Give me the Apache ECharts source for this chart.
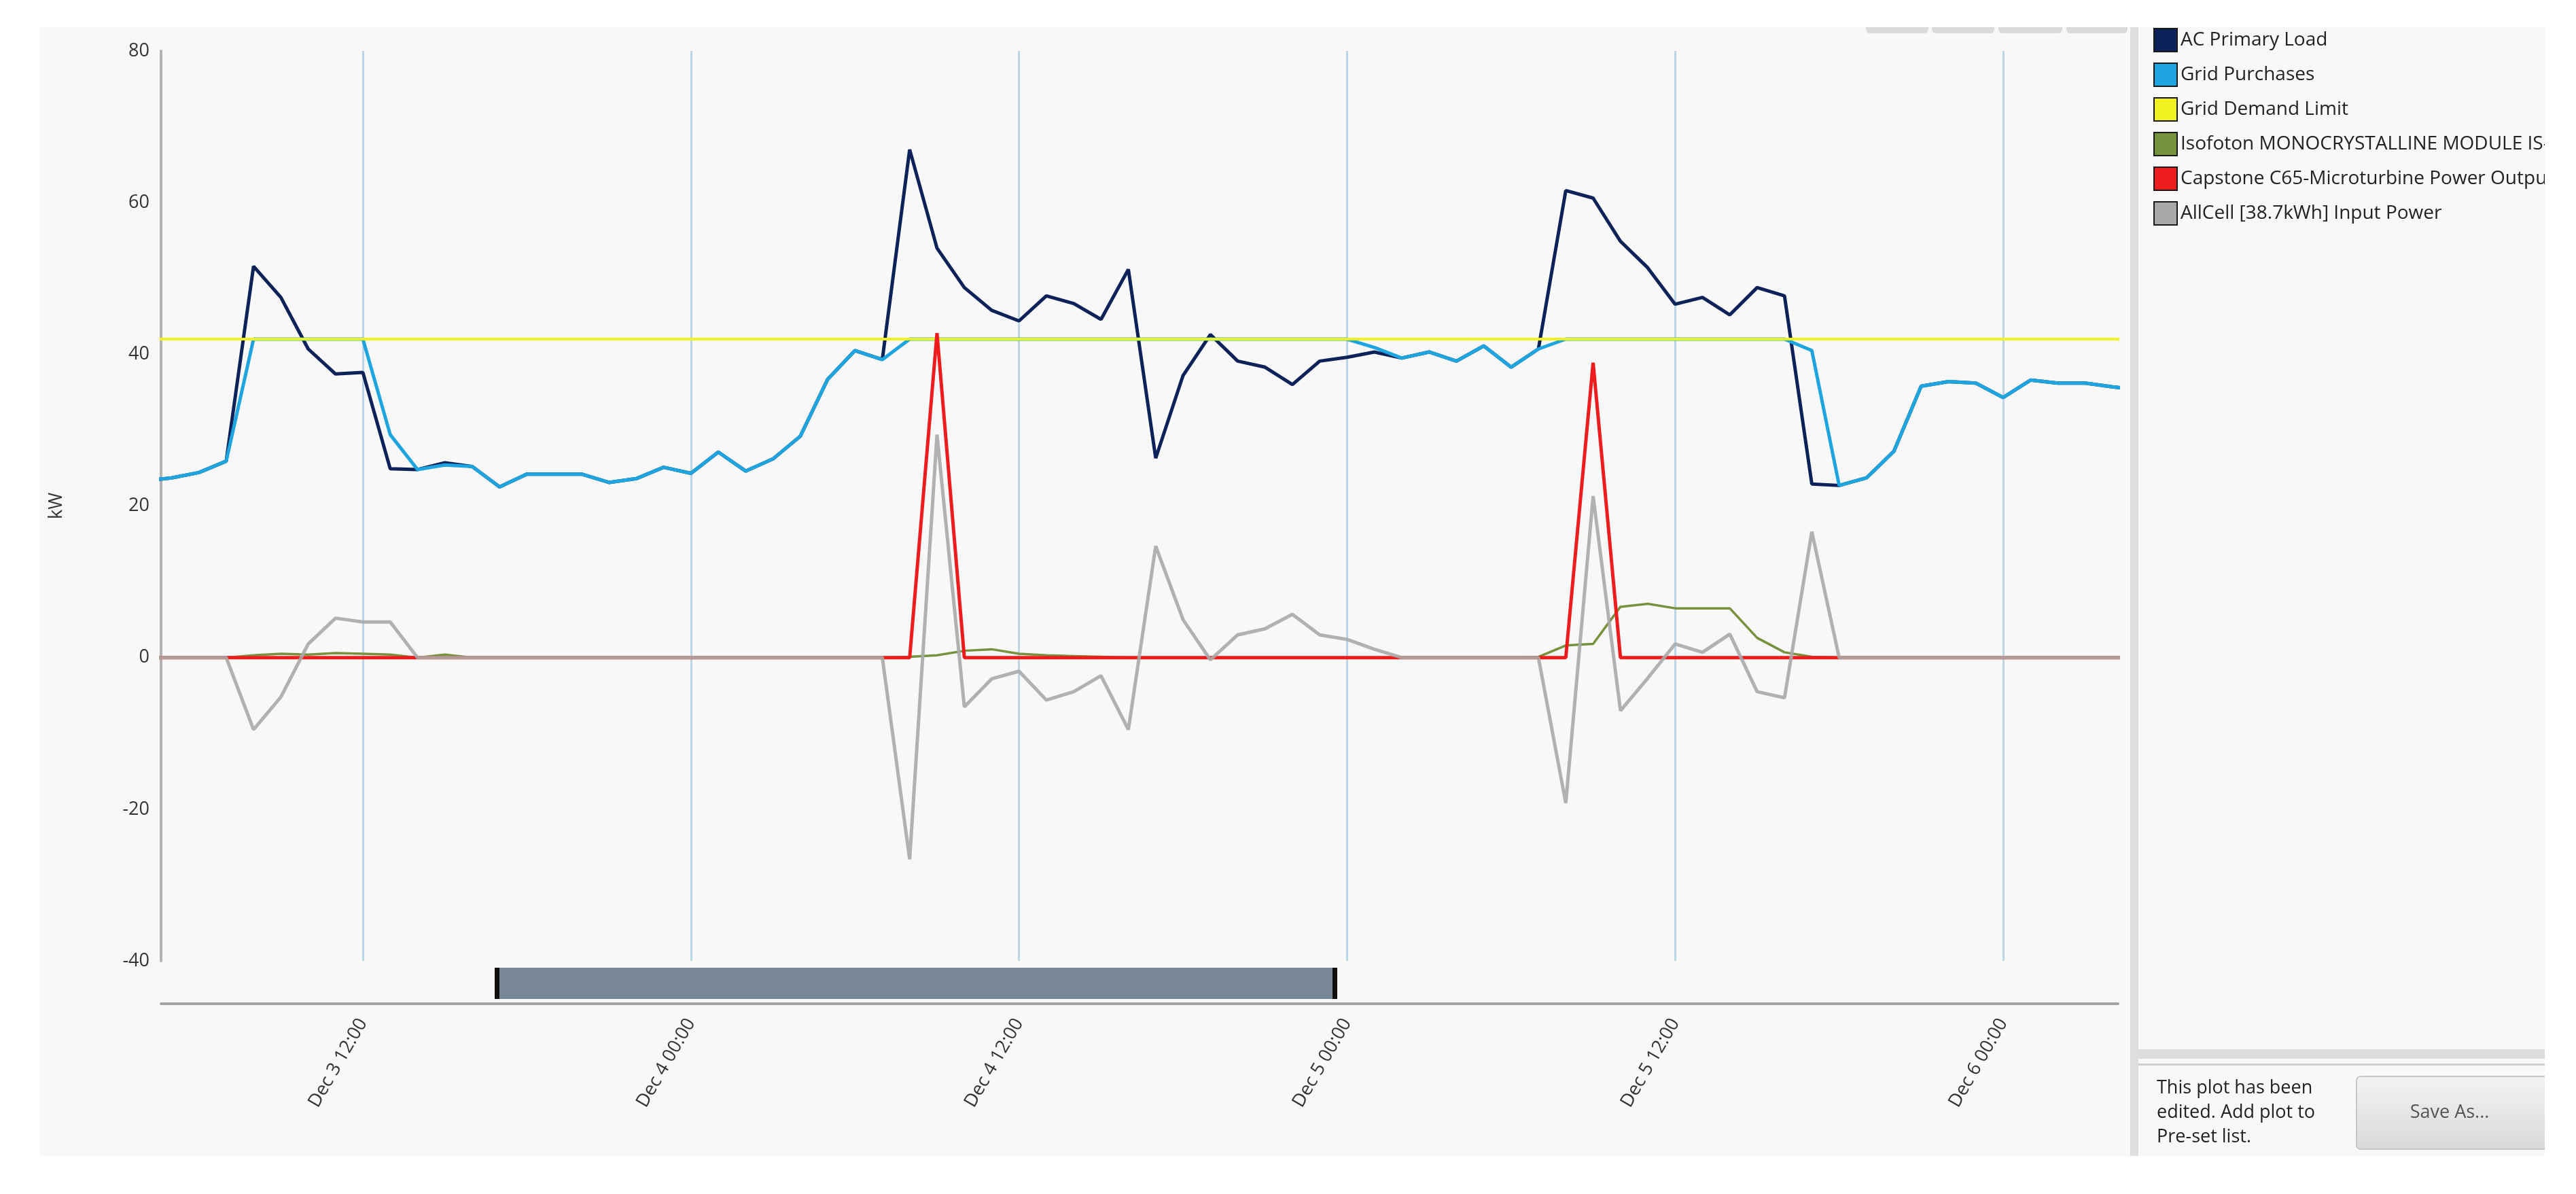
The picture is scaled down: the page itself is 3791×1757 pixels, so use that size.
<!DOCTYPE html>
<html>
<head>
<meta charset="utf-8">
<title>Power plot</title>
<script src="https://cdn.jsdelivr.net/npm/echarts@6.0.0/dist/echarts.min.js"></script>
<style>
  html, body { margin: 0; padding: 0; background: #fff; }
  #main { width: 3791px; height: 1757px; }
</style>
</head>
<body>
<div id="main"></div>
<script>
// hourly time stamps (Dec 3 04:00 .. Dec 6 05:00)
var times = [
  '2013-12-03 04:00', '2013-12-03 05:00', '2013-12-03 06:00', '2013-12-03 07:00', '2013-12-03 08:00',
  '2013-12-03 09:00', '2013-12-03 10:00', '2013-12-03 11:00', '2013-12-03 12:00', '2013-12-03 13:00',
  '2013-12-03 14:00', '2013-12-03 15:00', '2013-12-03 16:00', '2013-12-03 17:00', '2013-12-03 18:00',
  '2013-12-03 19:00', '2013-12-03 20:00', '2013-12-03 21:00', '2013-12-03 22:00', '2013-12-03 23:00',
  '2013-12-04 00:00', '2013-12-04 01:00', '2013-12-04 02:00', '2013-12-04 03:00', '2013-12-04 04:00',
  '2013-12-04 05:00', '2013-12-04 06:00', '2013-12-04 07:00', '2013-12-04 08:00', '2013-12-04 09:00',
  '2013-12-04 10:00', '2013-12-04 11:00', '2013-12-04 12:00', '2013-12-04 13:00', '2013-12-04 14:00',
  '2013-12-04 15:00', '2013-12-04 16:00', '2013-12-04 17:00', '2013-12-04 18:00', '2013-12-04 19:00',
  '2013-12-04 20:00', '2013-12-04 21:00', '2013-12-04 22:00', '2013-12-04 23:00', '2013-12-05 00:00',
  '2013-12-05 01:00', '2013-12-05 02:00', '2013-12-05 03:00', '2013-12-05 04:00', '2013-12-05 05:00',
  '2013-12-05 06:00', '2013-12-05 07:00', '2013-12-05 08:00', '2013-12-05 09:00', '2013-12-05 10:00',
  '2013-12-05 11:00', '2013-12-05 12:00', '2013-12-05 13:00', '2013-12-05 14:00', '2013-12-05 15:00',
  '2013-12-05 16:00', '2013-12-05 17:00', '2013-12-05 18:00', '2013-12-05 19:00', '2013-12-05 20:00',
  '2013-12-05 21:00', '2013-12-05 22:00', '2013-12-05 23:00', '2013-12-06 00:00', '2013-12-06 01:00',
  '2013-12-06 02:00', '2013-12-06 03:00', '2013-12-06 04:00', '2013-12-06 05:00'
];

// x tick labels (every 12 hours)
var tickTimes = [
  '2013-12-03 12:00', '2013-12-04 00:00', '2013-12-04 12:00',
  '2013-12-05 00:00', '2013-12-05 12:00', '2013-12-06 00:00'
];

var acPrimaryLoad = [
  23.3, 23.7, 24.4, 25.9, 51.6, 47.5, 40.7, 37.4, 37.6, 24.9,
  24.8, 25.7, 25.2, 22.5, 24.2, 24.2, 24.2, 23.1, 23.6, 25.1,
  24.3, 27.1, 24.6, 26.2, 29.2, 36.7, 40.5, 39.3, 67.0, 54.0,
  48.8, 45.8, 44.4, 47.7, 46.7, 44.6, 51.2, 26.3, 37.2, 42.6,
  39.1, 38.3, 36.0, 39.1, 39.6, 40.3, 39.5, 40.3, 39.1, 41.1,
  38.3, 40.7, 61.6, 60.6, 54.9, 51.4, 46.6, 47.5, 45.2, 48.8,
  47.7, 22.9, 22.7, 23.7, 27.2, 35.8, 36.4, 36.2, 34.3, 36.6,
  36.2, 36.2, 35.7, 35.3
];

var gridPurchases = [
  23.3, 23.7, 24.4, 25.9, 42, 42, 42, 42, 42, 29.4,
  24.8, 25.4, 25.2, 22.5, 24.2, 24.2, 24.2, 23.1, 23.6, 25.1,
  24.3, 27.1, 24.6, 26.2, 29.2, 36.7, 40.5, 39.3, 42, 42,
  42, 42, 42, 42, 42, 42, 42, 42, 42, 42,
  42, 42, 42, 42, 42, 40.9, 39.5, 40.3, 39.1, 41.1,
  38.3, 40.7, 42, 42, 42, 42, 42, 42, 42, 42,
  42, 40.5, 22.7, 23.7, 27.2, 35.8, 36.4, 36.2, 34.3, 36.6,
  36.2, 36.2, 35.7, 35.3
];

// demand limit is flat over the whole period
var limitTimes = ['2013-12-03 04:00', '2013-12-06 05:00'];
var gridDemandLimit = [42, 42];

var pvOutput = [
  0, 0, 0, 0, 0.3, 0.5, 0.4, 0.6, 0.5, 0.4,
  0, 0.4, 0, 0, 0, 0, 0, 0, 0, 0,
  0, 0, 0, 0, 0, 0, 0, 0, 0.1, 0.3,
  0.9, 1.1, 0.5, 0.3, 0.2, 0.1, 0, 0, 0, 0,
  0, 0, 0, 0, 0, 0, 0, 0, 0, 0,
  0, 0.1, 1.6, 1.8, 6.7, 7.1, 6.5, 6.5, 6.5, 2.6,
  0.7, 0.1, 0, 0, 0, 0, 0, 0, 0, 0,
  0, 0, 0, 0
];

var turbineOutput = [
  0, 0, 0, 0, 0, 0, 0, 0, 0, 0,
  0, 0, 0, 0, 0, 0, 0, 0, 0, 0,
  0, 0, 0, 0, 0, 0, 0, 0, 0, 42.8,
  0, 0, 0, 0, 0, 0, 0, 0, 0, 0,
  0, 0, 0, 0, 0, 0, 0, 0, 0, 0,
  0, 0, 0, 38.9, 0, 0, 0, 0, 0, 0,
  0, 0, 0, 0, 0, 0, 0, 0, 0, 0,
  0, 0, 0, 0
];

var batteryInput = [
  0, 0, 0, 0, -9.5, -5.2, 1.8, 5.2, 4.7, 4.7,
  0, 0, 0, 0, 0, 0, 0, 0, 0, 0,
  0, 0, 0, 0, 0, 0, 0, 0, -26.6, 29.4,
  -6.5, -2.8, -1.8, -5.6, -4.5, -2.4, -9.5, 14.7, 5.0, -0.3,
  3.0, 3.8, 5.7, 3.0, 2.4, 1.1, 0, 0, 0, 0,
  0, 0, -19.2, 21.3, -7.0, -2.7, 1.8, 0.7, 3.1, -4.5,
  -5.3, 16.6, 0, 0, 0, 0, 0, 0, 0, 0,
  0, 0, 0, 0
];

var seriesNames = [
  'AC Primary Load',
  'Grid Purchases',
  'Grid Demand Limit',
  'Isofoton MONOCRYSTALLINE MODULE IS-150 Power Output',
  'Capstone C65-Microturbine Power Output',
  'AllCell [38.7kWh] Input Power'
];
var seriesColors = ['#0d2259', '#1ea5df', '#f2f21e', '#76923c', '#ee1c1c', '#a8a8a8'];

var yTicks = { min: -40, max: 80, step: 20 };

var FONT = '"Open Sans", "Noto Sans", sans-serif';
var months = ['Jan', 'Feb', 'Mar', 'Apr', 'May', 'Jun', 'Jul', 'Aug', 'Sep', 'Oct', 'Nov', 'Dec'];

function pad(n) { return n < 10 ? '0' + n : '' + n; }
// 'YYYY-MM-DD HH:mm' -> local ms
function toMs(s) {
  var p = s.split(/[- :]/).map(Number);
  return new Date(p[0], p[1] - 1, p[2], p[3], p[4]).getTime();
}
function tickLabel(v) {
  var d = new Date(v);
  return months[d.getMonth()] + ' ' + d.getDate() + ' ' + pad(d.getHours()) + ':' + pad(d.getMinutes());
}
function pairs(ts, vals) {
  return vals.map(function (v, i) { return [toMs(ts[i]), v]; });
}

var dom = document.getElementById('main');
var myChart = echarts.init(dom);

function lineSeries(idx, ts, vals, width, opacity) {
  return {
    name: seriesNames[idx],
    type: 'line',
    symbol: 'none',
    data: pairs(ts, vals),
    itemStyle: { color: seriesColors[idx] },
    lineStyle: { color: seriesColors[idx], width: width, opacity: opacity == null ? 1 : opacity },
    emphasis: { disabled: true }
  };
}

var tickMs = tickTimes.map(toMs);

var option = {
  backgroundColor: '#ffffff',
  animation: false,
  textStyle: { fontFamily: FONT },
  grid: { left: 237, right: 674, top: 75, bottom: 343, containLabel: false },
  legend: {
    orient: 'vertical',
    left: 3164,
    top: 36,
    icon: 'rect',
    itemWidth: 34,
    itemHeight: 34,
    itemGap: 15,
    selectedMode: false,
    itemStyle: { borderColor: '#1a1a1a', borderWidth: 2 },
    textStyle: {
      fontSize: 28, color: '#222', fontFamily: FONT,
      width: 552, overflow: 'truncate', ellipsis: ''
    },
    data: seriesNames
  },
  xAxis: {
    type: 'value',
    min: toMs('2013-12-03 04:37'),
    max: toMs('2013-12-06 04:12'),
    offset: 63,
    axisLine: { show: true, onZero: false, lineStyle: { color: '#a4a4a4', width: 4 } },
    axisTick: { show: false, customValues: tickMs },
    axisLabel: {
      customValues: tickMs,
      rotate: 60, margin: 24, fontSize: 27, color: '#333', fontFamily: FONT,
      formatter: tickLabel
    },
    splitLine: { show: true, lineStyle: { color: '#bcd6e6', width: 3 } }
  },
  yAxis: {
    type: 'value',
    min: yTicks.min,
    max: yTicks.max,
    interval: yTicks.step,
    name: 'kW',
    nameLocation: 'middle',
    nameRotate: 90,
    nameGap: 140,
    nameTextStyle: { fontSize: 27, color: '#333', fontFamily: FONT },
    axisLine: { show: true, onZero: false, lineStyle: { color: '#b3b3b3', width: 4 } },
    axisTick: { show: false },
    axisLabel: { margin: 17, fontSize: 27, color: '#333', fontFamily: FONT },
    splitLine: { show: false }
  },
  graphic: [
    // plot panel and side panel
    { type: 'rect', z: -10, shape: { x: 58, y: 40, width: 3077, height: 1661 }, style: { fill: '#f8f8f8' } },
    { type: 'rect', z: -10, shape: { x: 3135, y: 40, width: 12, height: 1661 }, style: { fill: '#dedede' } },
    { type: 'rect', z: -10, shape: { x: 3147, y: 40, width: 598, height: 1661 }, style: { fill: '#f8f8f8' } },
    // tabs at the top
    { type: 'rect', z: -9, shape: { x: 2746, y: 40, width: 92, height: 9, r: [0, 0, 6, 6] }, style: { fill: '#dadada' } },
    { type: 'rect', z: -9, shape: { x: 2843, y: 40, width: 92, height: 9, r: [0, 0, 6, 6] }, style: { fill: '#dadada' } },
    { type: 'rect', z: -9, shape: { x: 2941, y: 40, width: 94, height: 9, r: [0, 0, 6, 6] }, style: { fill: '#dadada' } },
    { type: 'rect', z: -9, shape: { x: 3041, y: 40, width: 90, height: 9, r: [0, 0, 6, 6] }, style: { fill: '#dadada' } },
    // scroll thumb under the plot
    { type: 'rect', z: 5, shape: { x: 728, y: 1424, width: 1240, height: 46 }, style: { fill: '#778796' } },
    { type: 'rect', z: 6, shape: { x: 728, y: 1424, width: 7, height: 46 }, style: { fill: '#111' } },
    { type: 'rect', z: 6, shape: { x: 1961, y: 1424, width: 7, height: 46 }, style: { fill: '#111' } },
    // splitter in side panel
    { type: 'rect', z: -9, shape: { x: 3147, y: 1544, width: 598, height: 14 }, style: { fill: '#dcdcdc' } },
    { type: 'rect', z: -9, shape: { x: 3147, y: 1565, width: 598, height: 3 }, style: { fill: '#cfcfcf' } },
    {
      type: 'text', z: 5, left: 3174, top: 1583,
      style: {
        text: 'This plot has been\nedited. Add plot to\nPre-set list.',
        font: '27px ' + FONT, fill: '#222', lineHeight: 36
      }
    },
    {
      type: 'rect', z: 5, shape: { x: 3468, y: 1584, width: 290, height: 107, r: 6 },
      style: {
        fill: new echarts.graphic.LinearGradient(0, 0, 0, 1, [
          { offset: 0, color: '#f3f3f3' }, { offset: 1, color: '#d9d9d9' }
        ]),
        stroke: '#c6c6c6', lineWidth: 2
      }
    },
    {
      type: 'text', z: 6, x: 3605, y: 1637,
      style: { text: 'Save As...', font: '27px ' + FONT, fill: '#555', align: 'center', verticalAlign: 'middle' }
    },
    // white margin right of the side panel
    { type: 'rect', z: 50, shape: { x: 3745, y: 0, width: 46, height: 1757 }, style: { fill: '#ffffff' } }
  ],
  series: [
    lineSeries(0, times, acPrimaryLoad, 5),
    lineSeries(1, times, gridPurchases, 5),
    lineSeries(2, limitTimes, gridDemandLimit, 4),
    lineSeries(3, times, pvOutput, 3.5),
    lineSeries(4, times, turbineOutput, 5),
    lineSeries(5, times, batteryInput, 5, 0.9)
  ]
};

myChart.setOption(option);
</script>
</body>
</html>
